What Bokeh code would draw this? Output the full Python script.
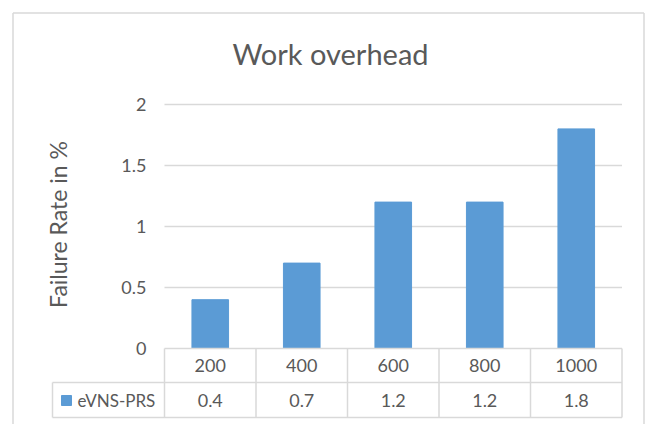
import math
from bokeh.plotting import figure
from bokeh.models import Range1d, ColumnDataSource
from bokeh.core.properties import value
from bokeh.embed import file_html
from bokeh.resources import INLINE

# ---- data ----
categories = ["200", "400", "600", "800", "1000"]
values = [0.4, 0.7, 1.2, 1.2, 1.8]
series_name = "eVNS-PRS"
y_ticks = [0, 0.5, 1, 1.5, 2]
y_tick_labels = ["0", "0.5", "1", "1.5", "2"]
title_text = "Work overhead"
y_title = "Failure Rate in %"

# ---- layout (page pixels) ----
FIG_W, FIG_H = 645, 424
OFF = 0
COL0, COLW = 164, 91.5      # page x of first category column, column width
Y0, UNIT = 348, 122.0       # page y of value 0, px per unit
FONT = "Lato"
TXT = "#595959"
GRID = "#d9d9d9"
BAR = "#5b9bd5"


def px2x(px):
    return (px - COL0) / COLW


def px2y(py):
    return (Y0 - py) / UNIT


n = len(categories)
p = figure(width=FIG_W, height=FIG_H, output_backend="svg", toolbar_location=None,
           x_range=Range1d(px2x(OFF), px2x(OFF + FIG_W)),
           y_range=Range1d(px2y(OFF + FIG_H), px2y(OFF)),
           min_border=0)
p.axis.visible = False
p.grid.visible = False
p.outline_line_color = None
p.background_fill_color = "white"
p.border_fill_color = "white"

# chart border
bx0, bx1, by0 = px2x(12.5), px2x(643.5), px2y(12.5)
p.segment(x0=[bx0, bx0, bx1], y0=[by0, by0, by0], x1=[bx1, bx0, bx1],
          y1=[by0, px2y(500), px2y(500)], line_color=GRID, line_width=1.5)

# gridlines
gl = [t for t in y_ticks if t > 0]
p.segment(x0=[0] * len(gl), y0=gl, x1=[n] * len(gl), y1=gl, line_color=GRID, line_width=1.5)

# bars
xs = [i + 0.5 for i in range(n)]
src = ColumnDataSource(dict(x=xs, top=values, cat=categories,
                            lab=[f"{v:g}" for v in values]))
p.vbar(x="x", top="top", bottom=0, width=0.4, color=BAR, source=src)

# y tick labels
p.text(x=[px2x(146)] * len(y_ticks), y=y_ticks, text=y_tick_labels,
       text_font=value(FONT), text_font_size=value("18px"), text_color=TXT,
       text_align="right", text_baseline="middle")

# y axis title
p.text(x=[px2x(57)], y=[px2y(224)], text=[y_title], angle=math.pi / 2,
       text_font=value(FONT), text_font_size=value("23px"), text_color=TXT,
       text_align="center", text_baseline="middle")

# title
p.text(x=[px2x(330)], y=[px2y(52.5)], text=[title_text],
       text_font=value(FONT), text_font_size=value("29px"), text_color=TXT,
       text_align="center", text_baseline="middle")

# data table
r1_top, r1_bot, r2_bot = 0, px2y(382), px2y(417)
lx = px2x(52)
hx0 = [0, lx, lx]
hy = [r1_top, r1_bot, r2_bot]
p.segment(x0=hx0, y0=hy, x1=[n] * 3, y1=hy, line_color=GRID, line_width=1.5)
vx = list(range(n + 1))
p.segment(x0=vx, y0=[r2_bot] * len(vx), x1=vx, y1=[r1_top] * len(vx),
          line_color=GRID, line_width=1.5)
p.segment(x0=[lx], y0=[r1_bot], x1=[lx], y1=[r2_bot], line_color=GRID, line_width=1.5)

p.text(x="x", y=(r1_top + r1_bot) / 2, text="cat", source=src,
       text_font=value(FONT), text_font_size=value("18px"), text_color=TXT,
       text_align="center", text_baseline="middle")
p.text(x="x", y=(r1_bot + r2_bot) / 2, text="lab", source=src,
       text_font=value(FONT), text_font_size=value("18px"), text_color=TXT,
       text_align="center", text_baseline="middle")

# legend key in table
p.scatter(x=[px2x(66)], y=[px2y(400)], marker="square", size=10, color=BAR)
p.text(x=[px2x(77)], y=[px2y(400)], text=[series_name],
       text_font=value(FONT), text_font_size=value("17px"), text_color=TXT,
       text_align="left", text_baseline="middle")

open("out.html", "w").write(file_html(p, INLINE))
